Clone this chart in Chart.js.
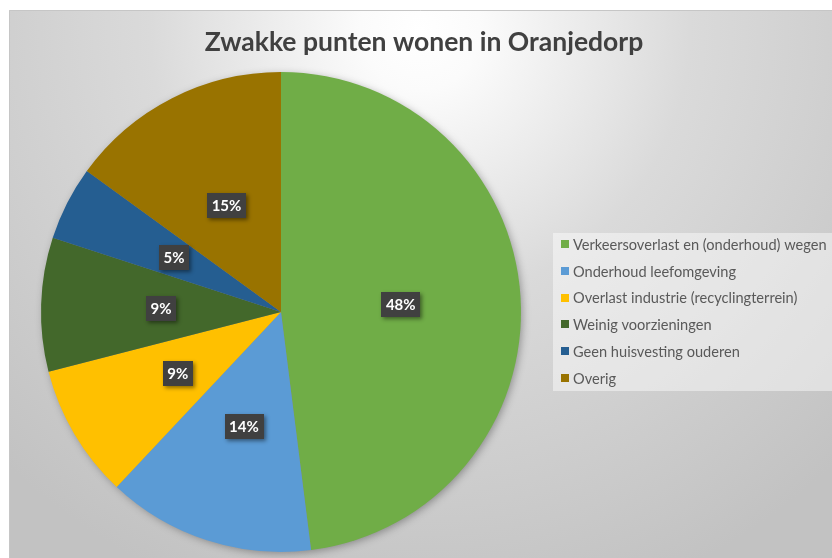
<!DOCTYPE html>
<html>
<head>
<meta charset="utf-8">
<script src="https://cdn.jsdelivr.net/npm/chart.js@4"></script>
<style>
html,body{margin:0;padding:0;background:#fff;}
#wrap{position:relative;width:832px;height:558px;}
</style>
</head>
<body>
<div id="wrap"><canvas id="c" width="832" height="558"></canvas></div>
<script>
const title = "Zwakke punten wonen in Oranjedorp";
const categories = [
  "Verkeersoverlast en (onderhoud) wegen",
  "Onderhoud leefomgeving",
  "Overlast industrie (recyclingterrein)",
  "Weinig voorzieningen",
  "Geen huisvesting ouderen",
  "Overig"
];
const values = [48, 14, 9, 9, 5, 15];
const colors = ["#70AD47", "#5B9BD5", "#FFC000", "#43682B", "#255E91", "#997300"];

const FONT = "Lato, 'Open Sans', sans-serif";

const bgPlugin = {
  id: 'bg',
  beforeDraw(chart) {
    const ctx = chart.ctx;
    ctx.save();
    ctx.fillStyle = '#ffffff';
    ctx.fillRect(0, 0, 832, 558);
    const g = ctx.createRadialGradient(420, 30, 0, 420, 30, 600);
    g.addColorStop(0, '#ffffff');
    g.addColorStop(0.1, '#fbfbfb');
    g.addColorStop(0.45, '#dadada');
    g.addColorStop(1, '#c2c2c2');
    ctx.fillStyle = g;
    ctx.fillRect(9, 10, 823, 548);
    ctx.strokeStyle = '#c6c6c6';
    ctx.lineWidth = 1;
    ctx.beginPath();
    ctx.moveTo(9.5, 558);
    ctx.lineTo(9.5, 10.5);
    ctx.lineTo(832, 10.5);
    ctx.stroke();
    // legend box
    ctx.fillStyle = 'rgba(255,255,255,0.45)';
    ctx.fillRect(553, 233, 279, 158);
    // title
    ctx.fillStyle = '#404040';
    ctx.font = "bold 26.5px " + FONT;
    ctx.textAlign = 'center';
    ctx.textBaseline = 'middle';
    ctx.fillText(title, 424, 42);
    ctx.restore();
  },
  beforeDatasetsDraw(chart) {
    const arc = chart.getDatasetMeta(0).data[0];
    if (!arc) return;
    const ctx = chart.ctx;
    ctx.save();
    ctx.shadowColor = 'rgba(0,0,0,0.35)';
    ctx.shadowBlur = 8;
    ctx.shadowOffsetX = 2;
    ctx.shadowOffsetY = 2;
    ctx.fillStyle = '#888';
    ctx.beginPath();
    ctx.arc(arc.x, arc.y, arc.outerRadius - 1, 0, Math.PI * 2);
    ctx.fill();
    ctx.restore();
  },
  afterDatasetsDraw(chart) {
    const ctx = chart.ctx;
    const meta = chart.getDatasetMeta(0);
    const total = values.reduce((a, b) => a + b, 0);
    ctx.save();
    ctx.font = "bold 15px " + FONT;
    ctx.textAlign = 'center';
    ctx.textBaseline = 'middle';
    meta.data.forEach((el, i) => {
      const p = el.getCenterPoint();
      const txt = Math.round(values[i] / total * 100) + '%';
      const w = ctx.measureText(txt).width + 9;
      const h = 25;
      ctx.save();
      ctx.shadowColor = 'rgba(0,0,0,0.45)';
      ctx.shadowBlur = 4;
      ctx.shadowOffsetX = 2;
      ctx.shadowOffsetY = 2;
      ctx.fillStyle = '#404040';
      ctx.fillRect(Math.round(p.x - w / 2), Math.round(p.y - h / 2), Math.round(w), h);
      ctx.restore();
      ctx.fillStyle = '#ffffff';
      ctx.fillText(txt, p.x, p.y + 1);
    });
    // legend
    ctx.font = "14.6px " + FONT;
    ctx.textAlign = 'left';
    categories.forEach((c, i) => {
      const y = 244 + i * 26.8;
      ctx.fillStyle = colors[i];
      ctx.fillRect(561, Math.round(y - 4), 8, 8);
      ctx.fillStyle = '#595959';
      ctx.fillText(c, 573, y + 1);
    });
    ctx.restore();
  }
};

new Chart(document.getElementById('c'), {
  type: 'pie',
  data: {
    labels: categories,
    datasets: [{
      data: values,
      backgroundColor: colors,
      borderWidth: 0
    }]
  },
  options: {
    responsive: false,
    animation: false,
    layout: { padding: { left: 41, top: 72, right: 311, bottom: 6 } },
    plugins: {
      legend: { display: false },
      title: { display: false },
      tooltip: { enabled: false }
    }
  },
  plugins: [bgPlugin]
});
</script>
</body>
</html>
